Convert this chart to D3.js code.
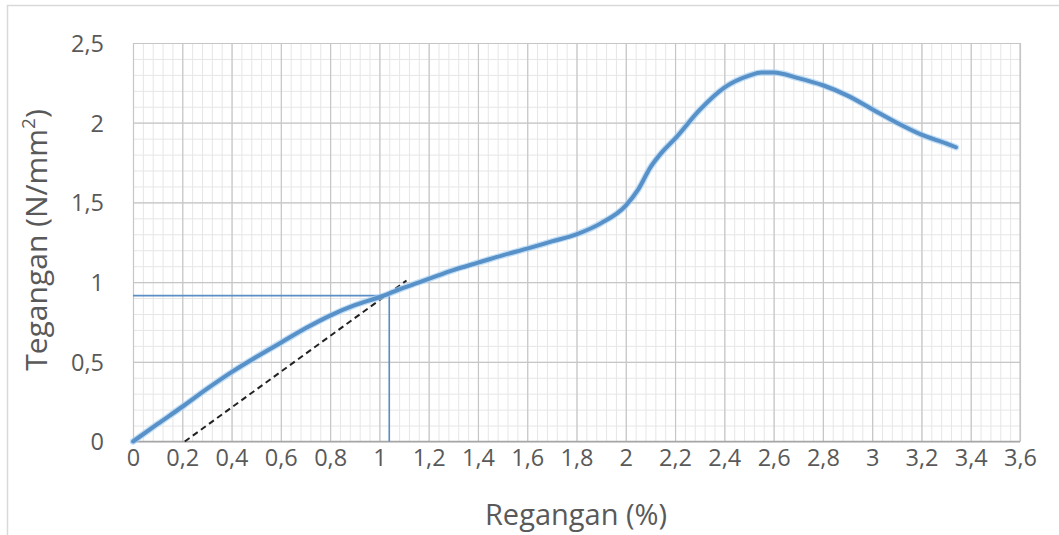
<!DOCTYPE html>
<html>
<head>
<meta charset="utf-8">
<script src="https://cdn.jsdelivr.net/npm/d3@7"></script>
<style>
  html, body { margin: 0; padding: 0; background: #fff; }
  svg { display: block; }
  text { font-family: "Open Sans", "Liberation Sans", sans-serif; fill: #595959; }
</style>
</head>
<body>
<svg id="chart" width="1059" height="535"></svg>
<script>
// Stress–strain curve: strain (%) and stress (N/mm²)
const strain = [0, 0.1, 0.2, 0.3, 0.4, 0.5, 0.6, 0.7, 0.8, 0.9, 1.0, 1.1, 1.2, 1.3, 1.4, 1.5, 1.6, 1.7, 1.8, 1.9,
                2.0, 2.05, 2.1, 2.15, 2.2, 2.3, 2.4, 2.5, 2.55, 2.6, 2.7, 2.8, 2.9, 3.0, 3.1, 3.2, 3.3, 3.34];
const stress = [0, 0.11, 0.218, 0.33, 0.435, 0.53, 0.62, 0.71, 0.79, 0.855, 0.905, 0.965, 1.02, 1.075, 1.122, 1.168, 1.21, 1.255, 1.30, 1.37,
                1.48, 1.58, 1.72, 1.82, 1.90, 2.08, 2.22, 2.295, 2.315, 2.315, 2.28, 2.235, 2.17, 2.085, 2.0, 1.925, 1.87, 1.846];

// Yield point read-off lines (stress level and strain at intersection)
const yieldStress = 0.915;
const yieldStrain = 1.04;

// 0.2 % offset line (dashed)
const offsetStrain = [0.21, 1.11];
const offsetStress = [0, 1.01];

// Axis ticks
const xTicks = d3.range(0, 3.6001, 0.2).map(v => +v.toFixed(2));
const yTicks = [0, 0.5, 1, 1.5, 2, 2.5];
const xMinor = d3.range(0, 3.6001, 0.04).map(v => +v.toFixed(2));
const yMinor = d3.range(0, 2.5001, 0.1).map(v => +v.toFixed(2));

const xTitle = "Regangan (%)";
const yTitle = "Tegangan (N/mm";

const svg = d3.select("#chart");
const W = 1059, H = 535;
const plot = { left: 133, right: 1020, top: 43, bottom: 441.5 };

const x = d3.scaleLinear().domain([0, 3.6]).range([plot.left, plot.right]);
const y = d3.scaleLinear().domain([0, 2.5]).range([plot.bottom, plot.top]);

const fmt = v => String(+v.toFixed(1)).replace(".", ",");

// chart frame
svg.append("rect")
  .attr("x", 7.5).attr("y", 5.5).attr("width", W).attr("height", H)
  .attr("fill", "#fff").attr("stroke", "#d9d9d9").attr("stroke-width", 1.5);

// gridlines drawn by axis generators with full-length ticks
function gridX(values, color, width) {
  svg.append("g")
    .attr("transform", `translate(0,${plot.bottom})`)
    .call(d3.axisBottom(x).tickValues(values).tickSizeInner(-(plot.bottom - plot.top)).tickSizeOuter(0).tickFormat(""))
    .call(g => g.select(".domain").remove())
    .call(g => g.selectAll("text").remove())
    .call(g => g.selectAll("line").attr("stroke", color).attr("stroke-width", width));
}
function gridY(values, color, width) {
  svg.append("g")
    .attr("transform", `translate(${plot.left},0)`)
    .call(d3.axisLeft(y).tickValues(values).tickSizeInner(-(plot.right - plot.left)).tickSizeOuter(0).tickFormat(""))
    .call(g => g.select(".domain").remove())
    .call(g => g.selectAll("text").remove())
    .call(g => g.selectAll("line").attr("stroke", color).attr("stroke-width", width));
}
gridX(xMinor, "#e6e6e6", 1);
gridY(yMinor, "#e6e6e6", 1);
gridX(xTicks, "#c6c6c6", 1.2);
gridY(yTicks, "#c6c6c6", 1.2);

// right edge of plot area
svg.append("line")
  .attr("x1", plot.right).attr("x2", plot.right)
  .attr("y1", plot.top).attr("y2", plot.bottom)
  .attr("stroke", "#c6c6c6").attr("stroke-width", 1.2);

// x axis line
svg.append("line")
  .attr("x1", plot.left).attr("x2", plot.right)
  .attr("y1", plot.bottom).attr("y2", plot.bottom)
  .attr("stroke", "#a6a6a6").attr("stroke-width", 1.5);

// tick labels
const xAxis = svg.append("g")
  .attr("transform", `translate(0,${plot.bottom})`)
  .call(d3.axisBottom(x).tickValues(xTicks).tickSize(0).tickPadding(0).tickFormat(fmt));
xAxis.select(".domain").remove();
xAxis.selectAll("line").remove();
xAxis.selectAll("text")
  .attr("y", 24).attr("dy", 0)
  .attr("font-size", 23.5).attr("font-family", "'Open Sans', sans-serif").attr("fill", "#595959");

const yAxis = svg.append("g")
  .attr("transform", `translate(${plot.left},0)`)
  .call(d3.axisLeft(y).tickValues(yTicks).tickSize(0).tickPadding(0).tickFormat(fmt));
yAxis.select(".domain").remove();
yAxis.selectAll("line").remove();
yAxis.selectAll("text")
  .attr("x", -29).attr("dy", "0.36em")
  .attr("font-size", 23.5).attr("font-family", "'Open Sans', sans-serif").attr("fill", "#595959");

// axis titles
svg.append("text")
  .attr("x", 576).attr("y", 525)
  .attr("text-anchor", "middle")
  .attr("font-size", 29)
  .text(xTitle);

const yt = svg.append("text")
  .attr("transform", "translate(47,240) rotate(-90)")
  .attr("text-anchor", "middle")
  .attr("font-size", 30);
yt.append("tspan").text(yTitle);
yt.append("tspan").attr("font-size", 19).attr("dy", -12).text("2");
yt.append("tspan").attr("dy", 12).text(")");

// yield read-off lines
svg.append("line")
  .attr("x1", x(0)).attr("x2", x(yieldStrain))
  .attr("y1", y(yieldStress)).attr("y2", y(yieldStress))
  .attr("stroke", "#5b8ec6").attr("stroke-width", 1.6);
svg.append("line")
  .attr("x1", x(yieldStrain)).attr("x2", x(yieldStrain))
  .attr("y1", y(0)).attr("y2", y(yieldStress))
  .attr("stroke", "#5b8ec6").attr("stroke-width", 1.6);

// offset line
svg.append("line")
  .attr("x1", x(offsetStrain[0])).attr("y1", y(offsetStress[0]))
  .attr("x2", x(offsetStrain[1])).attr("y2", y(offsetStress[1]))
  .attr("stroke", "#222").attr("stroke-width", 2).attr("stroke-dasharray", "6,4");

// main curve
const pts = strain.map((s, i) => [s, stress[i]]);
const line = d3.line().x(d => x(d[0])).y(d => y(d[1])).curve(d3.curveMonotoneX);
svg.append("path")
  .datum(pts)
  .attr("d", line)
  .attr("fill", "none")
  .attr("stroke", "#a8d2f4").attr("stroke-width", 6.5)
  .attr("stroke-linecap", "round").attr("stroke-linejoin", "round")
  .attr("opacity", 0.7);
svg.append("path")
  .datum(pts)
  .attr("d", line)
  .attr("fill", "none")
  .attr("stroke", "#5890c8").attr("stroke-width", 4)
  .attr("stroke-linecap", "round").attr("stroke-linejoin", "round");
</script>
</body>
</html>
